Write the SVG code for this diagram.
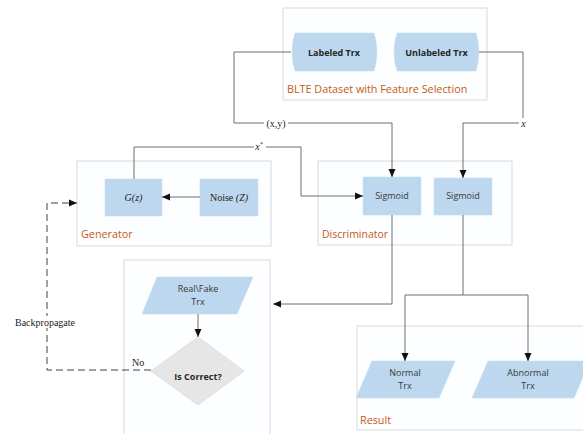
<svg xmlns="http://www.w3.org/2000/svg" width="583" height="434" viewBox="0 0 583 434">
<style>
.grp{fill:#fdfeff;stroke:#d6d9dc;stroke-width:1}
.node{fill:#bdd7ee;stroke:#c9dff2;stroke-width:0.6}
.cap{font-family:"Open Sans","Liberation Sans",sans-serif;font-size:10.8px;fill:#c55a11}
.nt{font-family:"Open Sans","Liberation Sans",sans-serif;font-size:9px;fill:#3a3a3a;text-anchor:middle}
.bt{font-family:"Open Sans","Liberation Sans",sans-serif;font-size:9px;font-weight:bold;fill:#262626;text-anchor:middle}
.ser{font-family:"Liberation Serif",serif;font-size:10px;fill:#222}
.ln{fill:none;stroke:#6e6e6e;stroke-width:1}
.dash{fill:none;stroke:#404040;stroke-width:1;stroke-dasharray:7,4}
</style>
<defs>
<marker id="ah" markerWidth="8" markerHeight="8" refX="8" refY="4" orient="auto" markerUnits="userSpaceOnUse">
<path d="M0,0.5 L8,4 L0,7.5 Z" fill="#111"/>
</marker>
</defs>
<rect width="583" height="434" fill="#fff"/>

<g id="blte">
<rect class="grp" x="283" y="8" width="204" height="92"/>
<path class="node" d="M295,33 L374,33 Q380,52 374,71 L295,71 Q289,52 295,33 Z"/>
<text class="bt" x="334" y="55.5">Labeled Trx</text>
<path class="node" d="M397,33 L476,33 Q482,52 476,71 L397,71 Q391,52 397,33 Z"/>
<text class="bt" x="436.5" y="55.5">Unlabeled Trx</text>
<text class="cap" x="287" y="93">BLTE Dataset with Feature Selection</text>
</g>

<g id="generator">
<rect class="grp" x="77" y="161" width="194" height="85"/>
<rect class="node" x="105" y="179" width="57" height="37"/>
<text class="ser" x="133.5" y="201" text-anchor="middle" font-style="italic">G(z)</text>
<rect class="node" x="200" y="179" width="58" height="37"/>
<text class="ser" x="229" y="201" text-anchor="middle">Noise <tspan font-style="italic">(Z)</tspan></text>
<text class="cap" x="81" y="238">Generator</text>
</g>

<g id="discriminator">
<rect class="grp" x="318" y="161" width="194" height="84"/>
<rect class="node" x="363" y="177" width="58" height="38"/>
<text class="nt" x="392" y="199">Sigmoid</text>
<rect class="node" x="434" y="178" width="58" height="37"/>
<text class="nt" x="463" y="199">Sigmoid</text>
<text class="cap" x="322" y="238" textLength="66" lengthAdjust="spacingAndGlyphs">Discriminator</text>
</g>

<g id="decision">
<rect class="grp" x="124" y="260" width="146" height="180"/>
<path class="node" d="M157,277 L253,277 L237,314 L142,314 Z"/>
<text class="nt" x="198" y="292">Real\Fake</text>
<text class="nt" x="198" y="305">Trx</text>
<path d="M198,337 L244,371 L198,405 L151,371 Z" fill="#e7e6e6" stroke="#d4dbe3" stroke-width="0.8"/>
<text class="bt" x="198" y="380">Is Correct?</text>
</g>

<g id="result">
<rect class="grp" x="357" y="326" width="230" height="104"/>
<path class="node" d="M372,361 L455,361 L439,398 L356,398 Z"/>
<text class="nt" x="405" y="376">Normal</text>
<text class="nt" x="405" y="389">Trx</text>
<path class="node" d="M488,361 L590,361 L574,398 L472,398 Z"/>
<text class="nt" x="528" y="376">Abnormal</text>
<text class="nt" x="528" y="389">Trx</text>
<text class="cap" x="360" y="424">Result</text>
</g>

<g id="connectors">
<path class="ln" d="M291,52 L234,52 L234,123 L392,123 L392,177" marker-end="url(#ah)"/>
<path class="ln" d="M479,52 L523,52 L523,123 L463,123 L463,178" marker-end="url(#ah)"/>
<path class="ln" d="M134,179 L134,147 L301,147 L301,196 L363,196" marker-end="url(#ah)"/>
<path class="ln" d="M200,197 L162,197" marker-end="url(#ah)"/>
<path class="ln" d="M392,215 L392,304 L273,304" marker-end="url(#ah)"/>
<path class="ln" d="M463,215 L463,295"/>
<path class="ln" d="M405,295 L528,295"/>
<path class="ln" d="M405,295 L405,361" marker-end="url(#ah)"/>
<path class="ln" d="M528,295 L528,361" marker-end="url(#ah)"/>
<path class="ln" d="M198,314 L198,337" marker-end="url(#ah)"/>
<path class="dash" d="M151,370 L47,370 L47,203 L70,203"/>
<path class="ln" d="M69,203 L77,203" stroke="#111" marker-end="url(#ah)"/>
<rect x="264" y="117" width="24" height="12" fill="#fff"/>
<text class="ser" x="276" y="127" text-anchor="middle">(x,y)</text>
<rect x="519" y="118" width="9" height="11" fill="#fff"/>
<text class="ser" x="523.5" y="127" text-anchor="middle" font-style="italic">x</text>
<rect x="254" y="141" width="12" height="12" fill="#fff"/>
<text class="ser" x="259" y="150" text-anchor="middle" font-style="italic">x<tspan font-size="6" dy="-4">*</tspan></text>
<text class="ser" x="132" y="366">No</text>
<rect x="14" y="316" width="66" height="12" fill="#fff"/>
<text class="ser" x="15" y="326">Backpropagate</text>
</g>
</svg>
